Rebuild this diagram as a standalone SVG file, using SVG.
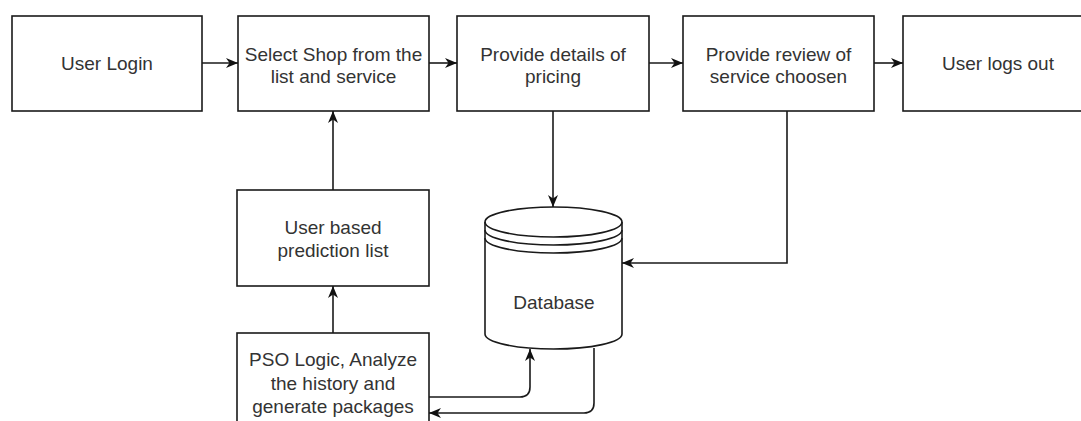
<svg xmlns="http://www.w3.org/2000/svg" width="1081" height="421" viewBox="0 0 1081 421">
  <defs>
    <marker id="arrow" markerUnits="userSpaceOnUse" markerWidth="14" markerHeight="12" refX="12" refY="6" orient="auto">
      <path d="M0,1 L12,6 L0,11 L3.5,6 Z" fill="#111"/>
    </marker>
    <style>
      .box { fill: #fff; stroke: #1a1a1a; stroke-width: 1.6; }
      .lbl { font-family: "Liberation Sans", Arial, sans-serif; font-size: 19px; fill: #333; text-anchor: middle; }
      .edge { fill: none; stroke: #1a1a1a; stroke-width: 1.6; marker-end: url(#arrow); }
      .db { fill: #fff; stroke: #1a1a1a; stroke-width: 1.6; }
      .ring { fill: none; stroke: #1a1a1a; stroke-width: 1.6; }
    </style>
  </defs>
  <rect width="1081" height="421" fill="#fff"/>

  <g id="user-login">
    <rect class="box" x="12" y="16" width="190" height="95"/>
    <text class="lbl" x="107" y="70">User Login</text>
  </g>
  <g id="select-shop">
    <rect class="box" x="238" y="16" width="191" height="95"/>
    <text class="lbl" x="333.5" y="60.5">Select Shop from the</text>
    <text class="lbl" x="333.5" y="82.5">list and service</text>
  </g>
  <g id="pricing">
    <rect class="box" x="457" y="16" width="192" height="95"/>
    <text class="lbl" x="553" y="60.5">Provide details of</text>
    <text class="lbl" x="553" y="82.5">pricing</text>
  </g>
  <g id="review">
    <rect class="box" x="683" y="16" width="191" height="95"/>
    <text class="lbl" x="778.5" y="60.5">Provide review of</text>
    <text class="lbl" x="778.5" y="82.5">service choosen</text>
  </g>
  <g id="logout">
    <rect class="box" x="903" y="16" width="190" height="95"/>
    <text class="lbl" x="998" y="70">User logs out</text>
  </g>
  <g id="prediction-list">
    <rect class="box" x="237" y="190" width="192" height="96"/>
    <text class="lbl" x="333" y="234">User based</text>
    <text class="lbl" x="333" y="257">prediction list</text>
  </g>
  <g id="pso-logic">
    <rect class="box" x="237" y="333" width="192" height="95"/>
    <text class="lbl" x="333" y="366">PSO Logic, Analyze</text>
    <text class="lbl" x="333" y="390">the history and</text>
    <text class="lbl" x="333" y="413">generate packages</text>
  </g>
  <g id="database">
    <path class="db" d="M485,222 A68.5,15 0 0 1 622,222 L622,334 A68.5,15 0 0 1 485,334 Z"/>
    <path class="ring" d="M485,222 A68.5,15 0 0 0 622,222"/>
    <path class="ring" d="M485,230 A68.5,15 0 0 0 622,230"/>
    <path class="ring" d="M485,238 A68.5,15 0 0 0 622,238"/>
    <text class="lbl" x="554" y="309">Database</text>
  </g>

  <g id="connectors">
    <path class="edge" d="M202,63 L238,63"/>
    <path class="edge" d="M429,63 L457,63"/>
    <path class="edge" d="M649,63 L683,63"/>
    <path class="edge" d="M874,63 L903,63"/>
    <path class="edge" d="M553,111 L553,207"/>
    <path class="edge" d="M787,111 L787,263 L622,263"/>
    <path class="edge" d="M333,190 L333,111"/>
    <path class="edge" d="M333,333 L333,286"/>
    <path class="edge" d="M429,397 L520,397 Q530,397 530,387 L530,349"/>
    <path class="edge" d="M594,348 L594,403 Q594,413 584,413 L429,413"/>
  </g>
</svg>
